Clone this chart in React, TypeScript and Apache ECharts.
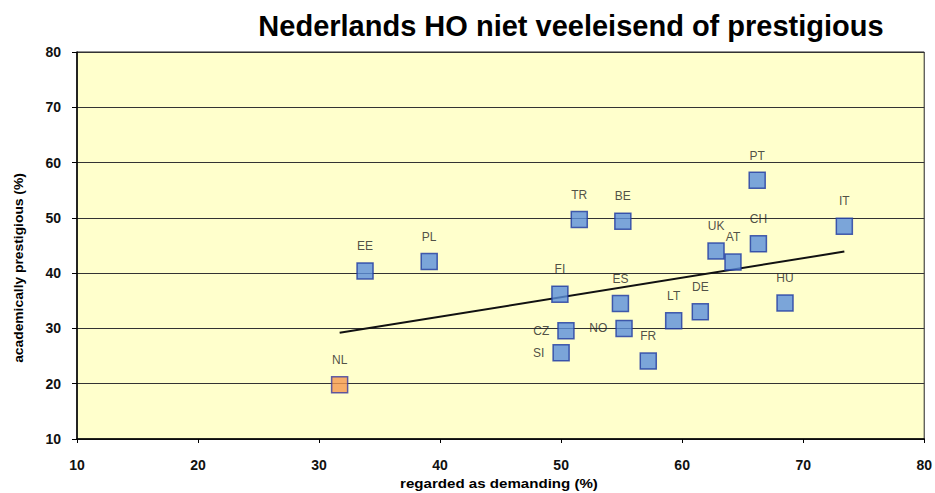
import React, { useEffect, useRef } from "react";
import * as echarts from "echarts";

const countries = ["EE", "PL", "TR", "BE", "FI", "ES", "CZ", "NO", "SI", "FR", "LT", "DE", "UK", "AT", "CH", "PT", "IT", "HU"];
const demanding = [33.8, 39.1, 51.5, 55.1, 49.9, 54.9, 50.4, 55.2, 50.0, 57.2, 59.3, 61.5, 62.8, 64.2, 66.3, 66.2, 73.4, 68.5];
const prestigious = [40.4, 42.1, 49.7, 49.4, 36.2, 34.5, 29.6, 30.0, 25.6, 24.1, 31.4, 33.0, 44.0, 42.0, 45.3, 56.8, 48.5, 34.6];
const leftLabelled = ["CZ", "NO", "SI"];
const nlPoint = { name: "NL", x: 31.7, y: 19.8 };
const trendX = [31.7, 73.4];
const trendY = [29.2, 43.9];
const axisTicks = [10, 20, 30, 40, 50, 60, 70, 80];
const xAxisName = "regarded as demanding (%)";
const yAxisName = "academically prestigious (%)";

function textWidth(text: string, font: string): number {
  const ctx = document.createElement("canvas").getContext("2d");
  if (!ctx) return text.length * 6;
  ctx.font = font;
  return ctx.measureText(text).width;
}

export default function App() {
  const ref = useRef<HTMLDivElement>(null);
  useEffect(() => {
    if (!ref.current) return;
    const chart = echarts.init(ref.current, null, { renderer: "svg" });
    const font = "'Liberation Sans', Arial, sans-serif";
    const nameFont = "bold 12px 'Liberation Sans', Arial, sans-serif";
    const xScale = 198 / textWidth(xAxisName, nameFont);
    const yScale = 190 / textWidth(yAxisName, nameFont);
    const blueData = countries.map((c, i) => ({
      name: c,
      value: [demanding[i], prestigious[i]],
      label: leftLabelled.includes(c)
        ? { position: "left", distance: 8 }
        : { position: "top", distance: 10 },
    }));
    chart.setOption({
      animation: false,
      backgroundColor: "#ffffff",
      title: {
        text: "Nederlands HO niet veeleisend of prestigious",
        left: 566,
        textAlign: "center",
        top: 6,
        textStyle: { fontFamily: font, fontSize: 29, fontWeight: "bold", color: "#000" },
      },
      graphic: [
        {
          type: "text",
          x: 499,
          y: 484,
          scaleX: xScale,
          style: {
            text: xAxisName,
            fontFamily: font,
            fontSize: 12,
            fontWeight: "bold",
            fill: "#000",
            align: "center",
            verticalAlign: "middle",
          },
        },
        {
          type: "text",
          x: 19,
          y: 268,
          rotation: Math.PI / 2,
          scaleX: yScale,
          style: {
            text: yAxisName,
            fontFamily: font,
            fontSize: 12,
            fontWeight: "bold",
            fill: "#000",
            align: "center",
            verticalAlign: "middle",
          },
        },
      ],
      grid: {
        left: 77,
        right: 8,
        top: 52,
        bottom: 54,
        show: true,
        backgroundColor: "#ffffcc",
        borderColor: "#222",
        borderWidth: 1,
      },
      xAxis: {
        type: "value",
        min: axisTicks[0],
        max: axisTicks[axisTicks.length - 1],
        interval: 10,
        axisLine: { show: true, lineStyle: { color: "#000", width: 1.5 } },
        axisTick: { show: true, length: 4, lineStyle: { color: "#000" } },
        axisLabel: { fontFamily: font, fontSize: 14, fontWeight: "bold", color: "#111", margin: 19 },
        splitLine: { show: false },
      },
      yAxis: {
        type: "value",
        min: axisTicks[0],
        max: axisTicks[axisTicks.length - 1],
        interval: 10,
        axisLine: { show: true, lineStyle: { color: "#000", width: 1.5 } },
        axisTick: { show: true, length: 5, lineStyle: { color: "#000" } },
        axisLabel: { fontFamily: font, fontSize: 14, fontWeight: "bold", color: "#111", margin: 16 },
        splitLine: { show: true, lineStyle: { color: "#333", width: 1.2 } },
      },
      series: [
        {
          type: "line",
          data: trendX.map((x, i) => [x, trendY[i]]),
          showSymbol: false,
          symbol: "none",
          lineStyle: { color: "#111", width: 2 },
          z: 3,
        },
        {
          type: "scatter",
          symbol: "rect",
          symbolSize: 16,
          data: blueData,
          itemStyle: { color: "#5a8fdc", borderColor: "#1f3aa0", borderWidth: 1.5 },
          label: {
            show: true,
            formatter: "{b}",
            fontFamily: font,
            fontSize: 12,
            color: "#222",
          },
          z: 4,
        },
        {
          type: "scatter",
          symbol: "rect",
          symbolSize: 16,
          data: [{ name: nlPoint.name, value: [nlPoint.x, nlPoint.y] }],
          itemStyle: { color: "#f5984f", borderColor: "#3a3aa0", borderWidth: 1.5 },
          label: {
            show: true,
            formatter: "{b}",
            position: "top",
            distance: 10,
            fontFamily: font,
            fontSize: 12,
            color: "#222",
          },
          z: 4,
        },
      ],
    });
    return () => chart.dispose();
  }, []);
  return <div ref={ref} style={{ width: 935, height: 493, position: "absolute", left: 0, top: 0 }} />;
}
